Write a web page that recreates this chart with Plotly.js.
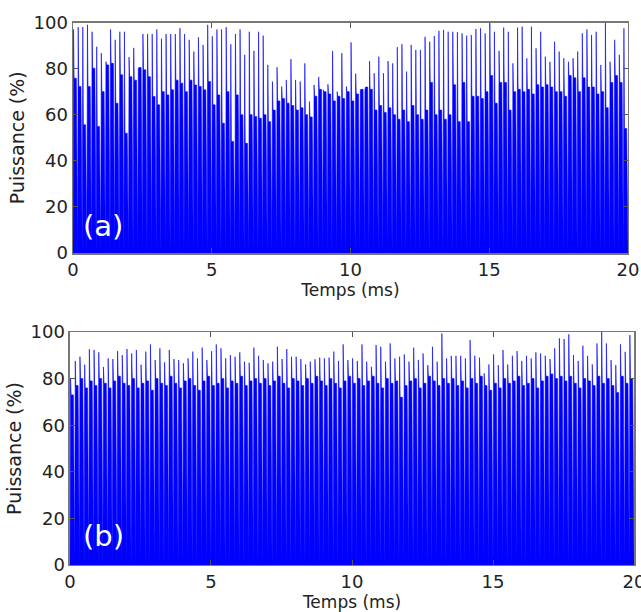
<!DOCTYPE html>
<html>
<head>
<meta charset="utf-8">
<script src="https://cdn.plot.ly/plotly-3.0.1.min.js"></script>
<style>
  html, body { margin: 0; padding: 0; background: #fff; }
  #chart { width: 641px; height: 612px; }
</style>
</head>
<body>
<div id="chart"></div>
<script>
// ---- Data ----
const timeSpanMs = 20;             // both panels cover 0 .. 20 ms
const xTicks = [0, 5, 10, 15, 20];
const yTicks = [0, 20, 40, 60, 80, 100];

// Panel (a): pulse peak values (%) and pulse plateau values (%)
const peaksA = [
  97, 98, 98, 99, 96, 89.5, 86.7, 83, 97, 92.5, 96, 96, 85, 89, 80, 95, 95, 95, 97, 93,
  95, 95, 95, 97.5, 95, 92.5, 87.4, 93.6, 90.3, 99, 94, 97, 97, 98, 90.6, 95, 97, 86, 96, 87.7,
  96, 94.3, 81.6, 74.4, 80.6, 72.2, 75.1, 84.1, 75.1, 74.4, 82.3, 65.7, 72.9, 76.4, 70.8, 73.2, 87.7, 70, 86.7, 72.2,
  91.4, 77.8, 70.8, 70.8, 83.3, 78, 85.2, 78, 83.3, 82.3, 89.3, 90.6, 78.7, 90.3, 88.1, 88.1, 93.8, 91.7, 94.2, 96.4,
  96.8, 96, 96, 95.8, 95.3, 94.3, 94.6, 97.2, 97.5, 95.3, 99.7, 96, 87.7, 97.8, 96, 82.3, 97.8, 98.2, 84.5, 98.2,
  88.8, 96, 85.2, 83, 91.7, 87.4, 84.5, 83, 84.5, 87.4, 95.3, 97, 94.6, 96, 81.6, 100, 83, 92.5, 86, 97.5
];
const bodiesA = [
  75.8, 72.2, 55.6, 72.2, 80.2, 54.9, 70, 81.6, 82.3, 65, 77.3, 52, 76.5, 75, 80.5, 79.5, 76.5, 67.9, 64.3, 70,
  68.6, 70.8, 75, 73.7, 70, 75, 72.9, 72.2, 70.8, 74.4, 64.3, 68.6, 56.3, 70, 48.4, 68.6, 60, 47.6, 60, 59.2,
  58.5, 60, 57, 62, 66, 67, 65, 64, 62, 63, 60, 59, 68, 71, 70, 69, 66, 68, 67, 70,
  66, 69, 71, 72, 71, 62, 64, 61, 63, 60, 58, 62, 57, 64, 60, 58, 62, 74, 60, 62,
  58, 60, 73, 57, 74, 57, 68, 68, 67, 70, 77, 65, 74, 74, 62, 70, 71, 70, 71, 69,
  73, 72, 73, 72, 70, 70, 68, 77, 76, 70, 76, 72, 72, 69, 70, 63, 74, 77, 74, 54
];

// Panel (b): pulse peak values (%) and pulse plateau values (%)
const peaksB = [
  80, 87.6, 89.4, 86, 92.6, 92.3, 91.3, 85, 88.7, 88.4, 91.8, 90.1, 92.7, 90.8, 92.3, 86, 91.6, 94.7, 88, 93,
  87, 92.3, 88.4, 88, 86.6, 88.7, 91.6, 88.7, 93.3, 88, 91.8, 94.7, 93, 88.7, 90.1, 89.4, 91.3, 87.3, 86.8, 93.3,
  89.8, 88, 86.6, 87.3, 93.7, 88.4, 92.7, 89.4, 89.4, 88.4, 86.1, 87.3, 88.3, 89, 88.7, 89, 91.6, 87.6, 94.7, 88,
  88.7, 87.6, 94.7, 87.3, 85.1, 94.4, 93.7, 87.3, 95.1, 88.7, 89.4, 90.4, 87.3, 93.3, 88, 90.8, 85.8, 93.7, 87.3, 99.4,
  88.7, 89.8, 89.8, 89.8, 88.7, 96.6, 89.8, 89, 82.3, 86.1, 90.4, 85.8, 92.3, 86.1, 89.8, 91.8, 87.6, 89.8, 88.7, 91.3,
  90.8, 89.8, 88.4, 93, 97.3, 97, 99, 90.1, 87.6, 94.1, 89.8, 86.1, 95.1, 100.4, 95.1, 88, 85.8, 94.7, 91.5, 98.7
];
const bodiesB = [
  73, 77, 80, 76, 79, 77, 80, 78, 76, 79, 81, 78, 77, 80, 76, 78, 79, 75, 80, 78,
  77, 81, 78, 76, 79, 80, 77, 75, 79, 81, 77, 78, 80, 76, 79, 78, 81, 77, 79, 80,
  78, 80, 77, 79, 81, 78, 76, 80, 79, 77, 80, 78, 81, 79, 77, 80, 78, 76, 79, 81,
  78, 80, 77, 79, 81, 78, 76, 80, 78, 79, 72, 77, 79, 80, 76, 78, 81, 79, 77, 80,
  78, 80, 77, 79, 76, 80, 78, 81, 77, 75, 78, 76, 80, 78, 79, 81, 77, 78, 80, 76,
  79, 81, 82, 80, 81, 79, 81, 78, 76, 80, 79, 77, 81, 78, 80, 77, 74, 81, 78, 80
];

// ---- Build the pulse-train line (each pulse: rise to peak, settle on plateau, fall back) ----
function pulseTrain(peaks, bodies) {
  const n = peaks.length;
  const P = timeSpanMs / n;
  const x = [], y = [];
  for (let i = 0; i < n; i++) {
    const t0 = i * P;
    x.push(t0);            y.push(0);
    x.push(t0 + 0.12 * P); y.push(peaks[i]);
    x.push(t0 + 0.24 * P); y.push(bodies[i]);
    x.push(t0 + 0.72 * P); y.push(bodies[i]);
  }
  x.push(timeSpanMs); y.push(0);
  return { x, y };
}

const A = pulseTrain(peaksA, bodiesA);
const B = pulseTrain(peaksB, bodiesB);

const blue = 'rgb(0,0,255)';
const traces = [
  { type: 'scatter', mode: 'lines', x: A.x, y: A.y, xaxis: 'x', yaxis: 'y',
    line: { color: blue, width: 0.6 }, fill: 'tozeroy', fillcolor: blue, hoverinfo: 'skip' },
  { type: 'scatter', mode: 'lines', x: B.x, y: B.y, xaxis: 'x2', yaxis: 'y2',
    line: { color: blue, width: 0.6 }, fill: 'tozeroy', fillcolor: blue, hoverinfo: 'skip' }
];

const font = { family: 'DejaVu Sans, sans-serif', color: '#222' };
function xAxis(domain, anchor) {
  return {
    domain: domain, anchor: anchor, range: [0, timeSpanMs],
    tickvals: xTicks, ticktext: xTicks.map(String),
    ticks: 'inside', ticklen: 5, tickcolor: '#555', mirror: 'ticks',
    showline: true, linecolor: '#777', linewidth: 1.5, showgrid: false, zeroline: false,
    tickfont: { family: font.family, color: font.color, size: 18 },
    ticklabeloverflow: 'allow',
    title: { text: 'Temps (ms)', font: { family: font.family, color: font.color, size: 17 }, standoff: 2 },
    automargin: false
  };
}
function yAxis(domain, anchor) {
  return {
    domain: domain, anchor: anchor, range: [0, 100],
    tickvals: yTicks, ticktext: yTicks.map(String),
    ticks: 'inside', ticklen: 5, tickcolor: '#555', mirror: 'ticks',
    showline: true, linecolor: '#777', linewidth: 1.5, showgrid: false, zeroline: false,
    tickfont: { family: font.family, color: font.color, size: 18 },
    ticklabeloverflow: 'allow',
    title: { text: 'Puissance (%)', font: { family: font.family, color: font.color, size: 19 }, standoff: 4 },
    automargin: false
  };
}

const layout = {
  width: 641, height: 612,
  margin: { l: 0, r: 0, t: 0, b: 0 },
  paper_bgcolor: '#fff', plot_bgcolor: '#fff',
  showlegend: false,
  xaxis: xAxis([0.1139, 0.9797], 'y'),
  yaxis: yAxis([0.5866, 0.9632], 'x'),
  xaxis2: xAxis([0.1092, 0.9891], 'y2'),
  yaxis2: yAxis([0.0768, 0.4575], 'x2'),
  annotations: [
    { text: '(a)', xref: 'paper', yref: 'paper', x: 0.1607, y: 0.6307, showarrow: false,
      xanchor: 'center', yanchor: 'middle', font: { family: font.family, color: '#fff', size: 29 } },
    { text: '(b)', xref: 'paper', yref: 'paper', x: 0.1622, y: 0.1242, showarrow: false,
      xanchor: 'center', yanchor: 'middle', font: { family: font.family, color: '#fff', size: 29 } }
  ]
};

Plotly.newPlot('chart', traces, layout, { displayModeBar: false, staticPlot: true });
</script>
</body>
</html>
